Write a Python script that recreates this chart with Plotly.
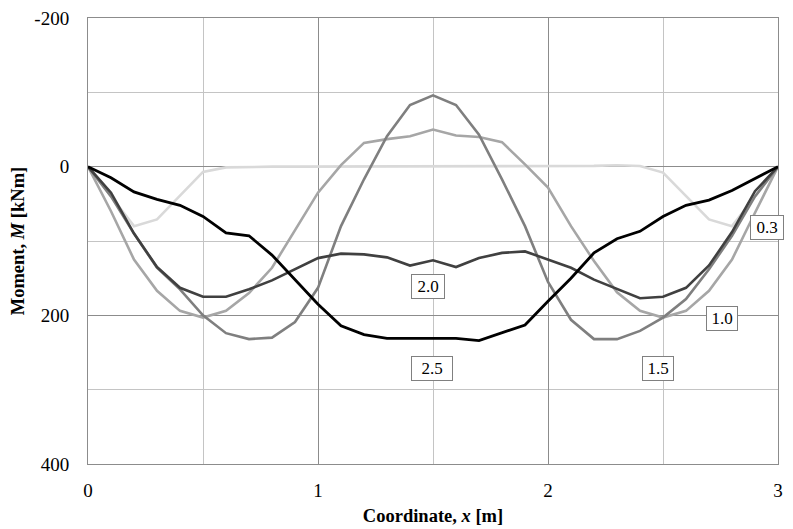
import plotly.graph_objects as go

# Coordinate x [m]
x = [0.0, 0.1, 0.2, 0.3, 0.4, 0.5, 0.6, 0.7, 0.8, 0.9, 1.0,
     1.1, 1.2, 1.3, 1.4, 1.5, 1.6, 1.7, 1.8, 1.9, 2.0,
     2.1, 2.2, 2.3, 2.4, 2.5, 2.6, 2.7, 2.8, 2.9, 3.0]

# Moment M [kNm] for each series
m_03 = [0, 40, 80, 71, 39, 7, 1, 0, 0, 0, 0,
        0, 0, 0, 0, 0, 0, 0, 0, 0, 0,
        0, -1, -2, -1, 8, 40, 71, 80, 40, 0]
m_10 = [0, 60, 125, 167, 194, 203, 194, 170, 136, 85, 35,
        -2, -32, -37, -41, -50, -42, -40, -33, -3, 28,
        80, 127, 169, 194, 203, 194, 167, 125, 62, 0]
m_15 = [0, 40, 90, 136, 165, 200, 224, 232, 230, 209, 163,
        80, 17, -41, -83, -96, -83, -43, 17, 80, 155,
        206, 232, 232, 221, 203, 178, 138, 93, 40, 0]
m_20 = [0, 35, 90, 135, 163, 175, 175, 165, 153, 138, 123,
        117, 118, 122, 133, 126, 135, 123, 116, 114, 125,
        136, 152, 165, 177, 175, 163, 133, 88, 33, 0]
m_25 = [0, 15, 34, 44, 52, 67, 89, 93, 119, 152, 185,
        214, 226, 231, 231, 231, 231, 234, 223, 213, 181,
        150, 116, 97, 87, 67, 52, 45, 32, 16, 0]

series_names = ["0.3", "1.0", "1.5", "2.0", "2.5"]
series_values = [m_03, m_10, m_15, m_20, m_25]
series_colors = ["#d9d9d9", "#a6a6a6", "#7f7f7f", "#404040", "#000000"]
series_widths = [2.6, 2.6, 2.6, 2.6, 2.8]

# label anchors (data coordinates) and pixel shifts
label_x = [2.99, 2.757, 2.478, 1.478, 1.496]
label_y = [82, 204, 272, 161, 272]
label_xshift = [-9, 0, 0, 0, 0]
label_boxw = [28, 26, 26, 28, 36]

x_ticks = [0, 1, 2, 3]
y_ticks = [-200, 0, 200, 400]

FONT = "Liberation Serif, Times New Roman, serif"

fig = go.Figure()
for name, vals, col, w in zip(series_names, series_values, series_colors, series_widths):
    fig.add_trace(go.Scatter(x=x, y=vals, mode="lines", name=name,
                             line=dict(color=col, width=w), showlegend=False,
                             hoverinfo="skip"))

for name, lx, ly, sh, bw in zip(series_names, label_x, label_y, label_xshift, label_boxw):
    fig.add_annotation(x=lx, y=ly, xref="x", yref="y", text=name, showarrow=False,
                       xshift=sh,
                       font=dict(family=FONT, size=17, color="#000000"),
                       bgcolor="#ffffff", bordercolor="#808080", borderwidth=1,
                       borderpad=2, width=bw)

major_grid = "#8c8c8c"
minor_grid = "#c4c4c4"

# the page body adds an 8px offset, so the figure is sized to fit the window
fig.update_layout(
    width=785, height=521,
    margin=dict(l=80, r=15, t=10, b=65),
    paper_bgcolor="#ffffff", plot_bgcolor="#ffffff",
    font=dict(family=FONT, size=19, color="#000000"),
    xaxis=dict(
        range=[0, 3], tickvals=x_ticks, ticktext=[str(v) for v in x_ticks],
        showgrid=True, gridcolor=major_grid, gridwidth=1,
        minor=dict(dtick=0.5, showgrid=True, gridcolor=minor_grid, gridwidth=1),
        showline=True, linecolor=major_grid, linewidth=1, mirror=True,
        zeroline=False, ticks="", ticklabelstandoff=9, automargin=False,
        ticklabeloverflow="allow",
        title=dict(text="<b>Coordinate, <i>x</i> [m]</b>",
                   font=dict(family=FONT, size=18.5), standoff=9),
    ),
    yaxis=dict(
        range=[400, -200], tickvals=y_ticks, ticktext=[str(v) for v in y_ticks],
        showgrid=True, gridcolor=major_grid, gridwidth=1,
        minor=dict(dtick=100, showgrid=True, gridcolor=minor_grid, gridwidth=1),
        showline=True, linecolor=major_grid, linewidth=1, mirror=True,
        zeroline=False, ticks="", ticklabelstandoff=14, automargin=False,
        ticklabeloverflow="allow",
        title=dict(text="<b>Moment, <i>M</i> [kNm]</b>",
                   font=dict(family=FONT, size=18.5), standoff=8),
    ),
)

fig.write_html("out.html")
